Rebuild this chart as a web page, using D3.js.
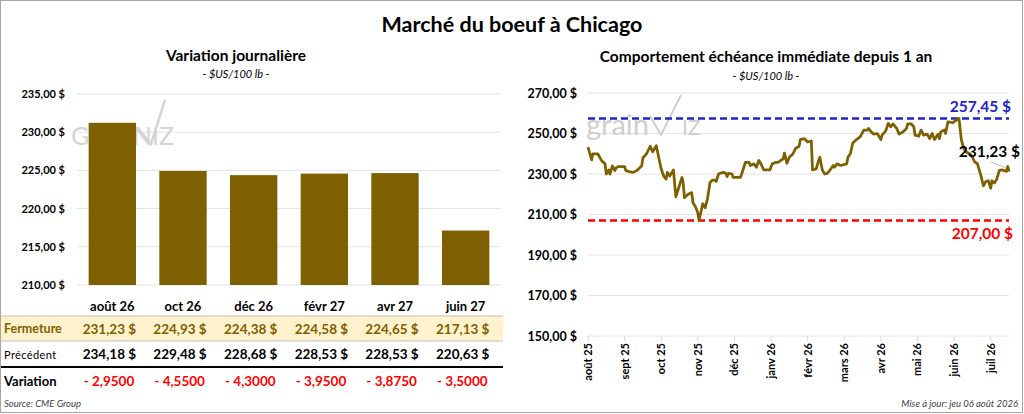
<!DOCTYPE html>
<html>
<head>
<meta charset="utf-8">
<script src="https://cdn.jsdelivr.net/npm/d3@7"></script>
<style>
  body { margin: 0; background: #fff; }
  svg { font-family: Lato, "Open Sans", sans-serif; }
</style>
</head>
<body>
<svg id="chart" width="1024" height="414"></svg>
<script>
// Données du graphique
const contrats   = ["août 26", "oct 26", "déc 26", "févr 27", "avr 27", "juin 27"];
const fermeture  = [231.23, 224.93, 224.38, 224.58, 224.65, 217.13];
const precedent  = [234.18, 229.48, 228.68, 228.53, 228.53, 220.63];
const variation  = [-2.95, -4.55, -4.30, -3.95, -3.875, -3.50];
const ticksGauche = [210, 215, 220, 225, 230, 235];

const moisLabels = ["août 25", "sept 25", "oct 25", "nov 25", "déc 25", "janv 26",
                    "févr 26", "mars 26", "avr 26", "mai 26", "juin 26", "juil 26"];
const ticksDroite = [150, 170, 190, 210, 230, 250, 270];

// échéance immédiate, lecture approximative du graphique
const datesHisto = [
  "2025-08-01","2025-08-04","2025-08-05","2025-08-09","2025-08-12","2025-08-15","2025-08-16","2025-08-18",
  "2025-08-19","2025-08-21","2025-08-23","2025-08-24","2025-08-26","2025-08-31","2025-09-02","2025-09-06",
  "2025-09-08","2025-09-11","2025-09-15","2025-09-16","2025-09-19","2025-09-22","2025-09-24","2025-09-26",
  "2025-09-27","2025-09-29","2025-10-01","2025-10-03","2025-10-05","2025-10-06","2025-10-08","2025-10-10",
  "2025-10-11","2025-10-13","2025-10-15","2025-10-18","2025-10-19","2025-10-20","2025-10-23","2025-10-26",
  "2025-10-27","2025-10-29","2025-10-31","2025-11-02","2025-11-04","2025-11-05","2025-11-07","2025-11-09",
  "2025-11-11","2025-11-13","2025-11-15","2025-11-16","2025-11-18","2025-11-19","2025-11-22","2025-11-24",
  "2025-11-25","2025-11-26","2025-11-29","2025-11-30","2025-12-06","2025-12-08","2025-12-10","2025-12-13",
  "2025-12-14","2025-12-17","2025-12-19","2025-12-21","2025-12-23","2025-12-25","2025-12-30","2026-01-02",
  "2026-01-05","2026-01-07","2026-01-09","2026-01-11","2026-01-12","2026-01-14","2026-01-16","2026-01-19",
  "2026-01-21","2026-01-24","2026-01-25","2026-01-28","2026-01-31","2026-02-04","2026-02-05","2026-02-08",
  "2026-02-10","2026-02-11","2026-02-13","2026-02-15","2026-02-17","2026-02-19","2026-02-22","2026-02-23",
  "2026-02-25","2026-02-28","2026-03-03","2026-03-04","2026-03-06","2026-03-08","2026-03-11","2026-03-14",
  "2026-03-17","2026-03-20","2026-03-21","2026-03-23","2026-03-25","2026-03-28","2026-03-31","2026-04-02",
  "2026-04-05","2026-04-07","2026-04-09","2026-04-11","2026-04-14","2026-04-16","2026-04-19","2026-04-22",
  "2026-04-23","2026-04-26","2026-04-28","2026-04-29","2026-05-02","2026-05-04","2026-05-06","2026-05-09",
  "2026-05-11","2026-05-13","2026-05-15","2026-05-18","2026-05-19","2026-05-20","2026-05-23","2026-05-24",
  "2026-05-26","2026-05-30","2026-06-02","2026-06-05","2026-06-07","2026-06-09","2026-06-11","2026-06-14",
  "2026-06-16","2026-06-18","2026-06-20","2026-06-23","2026-06-25","2026-06-27","2026-06-29","2026-07-01",
  "2026-07-02","2026-07-04","2026-07-06","2026-07-08","2026-07-10","2026-07-12","2026-07-14","2026-07-15",
  "2026-07-16"
];
const prixHisto = [
  243.3, 237.0, 240.0, 240.0, 236.7, 235.0, 230.0, 232.0,
  230.0, 234.0, 231.7, 233.0, 233.7, 233.7, 231.7, 231.0,
  230.8, 231.7, 234.0, 238.0, 240.0, 243.7, 241.0, 243.0,
  244.0, 238.0, 232.5, 229.0, 227.5, 230.8, 229.0, 231.0,
  232.0, 218.7, 222.5, 228.3, 225.8, 218.3, 220.0, 220.8,
  215.8, 214.0, 210.8, 207.0, 212.5, 215.3, 213.3, 218.0,
  225.8, 227.0, 227.0, 226.3, 230.0, 230.3, 230.8, 230.3,
  228.7, 230.3, 230.0, 228.3, 228.3, 232.0, 235.8, 235.8,
  234.2, 235.0, 233.3, 236.7, 234.7, 232.0, 232.0, 235.0,
  235.8, 235.8, 236.7, 237.5, 240.3, 235.3, 238.3, 240.0,
  242.5, 243.7, 247.0, 247.5, 245.8, 246.3, 232.0, 232.5,
  236.7, 238.3, 232.0, 230.0, 230.3, 231.7, 234.2, 233.3,
  235.0, 234.2, 235.0, 238.3, 240.0, 245.3, 247.0, 248.3,
  251.7, 251.7, 252.5, 250.8, 249.7, 250.0, 247.0, 249.2,
  251.3, 255.0, 253.3, 254.7, 252.5, 249.7, 250.8, 252.5,
  254.7, 254.7, 253.3, 249.2, 248.7, 251.7, 249.2, 249.7,
  247.5, 250.0, 247.0, 249.7, 247.5, 250.8, 251.7, 250.0,
  255.8, 255.3, 256.3, 257.45, 246.7, 242.5, 240.8, 240.0,
  238.3, 235.8, 235.3, 229.2, 224.2, 226.3, 226.7, 223.0,
  226.7, 225.5, 227.5, 231.7, 232.0, 231.7, 231.3, 233.7,
  231.23
];
const prixHaut = 257.45;
const prixBas = 207.00;
const prixDernier = 231.23;

const or = "#7f6000";
const svg = d3.select("#chart");

const fmt = v => v.toFixed(2).replace(".", ",");
const fmtVar = v => (v < 0 ? "- " : "") + Math.abs(v).toFixed(4).replace(".", ",");

// position en mois depuis août 2025 (axe à intervalles égaux)
function moisPos(s) {
  const [y, m, d] = s.split("-").map(Number);
  return (y - 2025) * 12 + (m - 8) + (d - 1) / 30;
}

// cadre et titre
svg.append("rect").attr("x", 0.5).attr("y", 0.5).attr("width", 1022).attr("height", 412)
  .attr("fill", "none").attr("stroke", "#a6a6a6");
svg.append("text").attr("x", 512).attr("y", 32).attr("text-anchor", "middle")
  .attr("font-size", 21.5).attr("font-weight", "bold").text("Marché du boeuf à Chicago");

////////////////////////////////////////////////////////////////////////
// Graphique de gauche : variation journalière

svg.append("text").attr("x", 236).attr("y", 61).attr("text-anchor", "middle")
  .attr("font-size", 15.5).attr("font-weight", "bold").text("Variation journalière");
svg.append("text").attr("x", 236).attr("y", 78).attr("text-anchor", "middle")
  .attr("font-size", 11).attr("font-style", "italic").text("- $US/100 lb -");

let xBar = d3.scaleBand().domain(contrats).range([77, 501]).paddingInner(0.33).paddingOuter(0.165);
let yBar = d3.scaleLinear().domain([210, 235]).range([285, 94]);

let gauche = svg.append("g");
gauche.selectAll("line.grid").data(ticksGauche).enter().append("line")
  .attr("x1", 77).attr("x2", 501)
  .attr("y1", d => yBar(d)).attr("y2", d => yBar(d))
  .attr("stroke", "#e3e3e3").attr("stroke-width", 1);
gauche.selectAll("text.ytick").data(ticksGauche).enter().append("text")
  .attr("x", 65).attr("y", d => yBar(d) + 4).attr("text-anchor", "end")
  .attr("font-size", 11).attr("font-weight", "bold").text(d => fmt(d) + " $");

// filigrane
gauche.append("text").attr("x", 71).attr("y", 145).attr("font-size", 25)
  .attr("fill", "#d4d4d4").attr("letter-spacing", 1).text("GRAIN");
gauche.append("path").attr("d", "M137,127 L151,144 L165,100")
  .attr("fill", "none").attr("stroke", "#d4d4d4").attr("stroke-width", 2.5);
gauche.append("text").attr("x", 152).attr("y", 145).attr("font-size", 25)
  .attr("fill", "#d4d4d4").text("IZ");

gauche.selectAll("rect.bar").data(fermeture).enter().append("rect")
  .attr("x", (d, i) => xBar(contrats[i]))
  .attr("width", xBar.bandwidth())
  .attr("y", d => yBar(d))
  .attr("height", d => yBar(210) - yBar(d))
  .attr("fill", or);

gauche.selectAll("text.cat").data(contrats).enter().append("text")
  .attr("x", d => xBar(d) + xBar.bandwidth() / 2).attr("y", 311).attr("text-anchor", "middle")
  .attr("font-size", 13).attr("font-weight", "bold").text(d => d);

// tableau
gauche.append("rect").attr("x", 1).attr("y", 316).attr("width", 502).attr("height", 25)
  .attr("fill", "#fff2cc");
gauche.append("line").attr("x1", 1).attr("x2", 503).attr("y1", 316).attr("y2", 316)
  .attr("stroke", "#bfbfbf");
gauche.append("line").attr("x1", 1).attr("x2", 503).attr("y1", 341).attr("y2", 341)
  .attr("stroke", "#bfbfbf");
gauche.append("line").attr("x1", 1).attr("x2", 503).attr("y1", 367).attr("y2", 367)
  .attr("stroke", "#000").attr("stroke-width", 2);

gauche.append("text").attr("x", 4).attr("y", 333).attr("font-size", 12.5)
  .attr("font-weight", "bold").attr("fill", or).text("Fermeture");
gauche.append("text").attr("x", 4).attr("y", 359).attr("font-size", 11)
  .attr("fill", "#000").attr("letter-spacing", 0.4).text("Précédent");
gauche.append("text").attr("x", 4).attr("y", 386).attr("font-size", 13)
  .attr("font-weight", "bold").attr("fill", "#000").text("Variation");

function ligneValeurs(valeurs, y, couleur) {
  let g = gauche.append("g");
  g.selectAll("text.val").data(valeurs).enter().append("text")
    .attr("x", (d, i) => xBar(contrats[i]) + xBar.bandwidth() - 11)
    .attr("y", y).attr("text-anchor", "end")
    .attr("font-size", 13.5).attr("font-weight", "bold").attr("fill", couleur)
    .text(d => fmt(d));
  g.selectAll("text.dol").data(valeurs).enter().append("text")
    .attr("x", (d, i) => xBar(contrats[i]) + xBar.bandwidth())
    .attr("y", y).attr("text-anchor", "end")
    .attr("font-size", 13.5).attr("font-weight", "bold").attr("fill", couleur)
    .text("$");
}
ligneValeurs(fermeture, 334, or);
ligneValeurs(precedent, 359, "#000");

gauche.selectAll("text.var").data(variation).enter().append("text")
  .attr("x", (d, i) => xBar(contrats[i]) - 5).attr("y", 386)
  .attr("font-size", 13.5).attr("font-weight", "bold").attr("fill", "#ff0000")
  .text(d => fmtVar(d));

svg.append("text").attr("x", 4).attr("y", 407).attr("font-size", 9.5)
  .attr("font-style", "italic").attr("fill", "#404040").text("Source: CME Group");

////////////////////////////////////////////////////////////////////////
// Graphique de droite : échéance immédiate depuis 1 an

svg.append("text").attr("x", 766).attr("y", 62).attr("text-anchor", "middle")
  .attr("font-size", 15.5).attr("font-weight", "bold")
  .text("Comportement  échéance immédiate depuis 1 an");
svg.append("text").attr("x", 766).attr("y", 80).attr("text-anchor", "middle")
  .attr("font-size", 11).attr("font-style", "italic").text("- $US/100 lb -");

let xLigne = d3.scaleLinear().domain([0, 11.5]).range([588, 1009]);
let yLigne = d3.scaleLinear().domain([150, 270]).range([336, 93]);

let droite = svg.append("g");
droite.selectAll("line.grid").data(ticksDroite).enter().append("line")
  .attr("x1", 588).attr("x2", 1009)
  .attr("y1", d => yLigne(d)).attr("y2", d => yLigne(d))
  .attr("stroke", "#e3e3e3").attr("stroke-width", 1);
droite.selectAll("text.ytick").data(ticksDroite).enter().append("text")
  .attr("x", 577).attr("y", d => yLigne(d) + 4.5).attr("text-anchor", "end")
  .attr("font-size", 12.5).attr("font-weight", "bold").text(d => fmt(d) + " $");

droite.selectAll("line.xtick").data(moisLabels).enter().append("line")
  .attr("x1", (d, i) => xLigne(i)).attr("x2", (d, i) => xLigne(i))
  .attr("y1", 336).attr("y2", 341).attr("stroke", "#d9d9d9");
droite.selectAll("text.mois").data(moisLabels).enter().append("text")
  .attr("transform", (d, i) => "translate(" + (xLigne(i) + 4) + ",343) rotate(-90)")
  .attr("text-anchor", "end").attr("font-size", 11).attr("font-weight", "bold")
  .text(d => d);

// filigrane
droite.append("text").attr("x", 586).attr("y", 135).attr("font-size", 29)
  .attr("fill", "#cfcfcf").text("grain");
droite.append("path").attr("d", "M650,116 L661,135 L681,95")
  .attr("fill", "none").attr("stroke", "#cfcfcf").attr("stroke-width", 2);
droite.append("text").attr("x", 682).attr("y", 135).attr("font-size", 21)
  .attr("fill", "#cfcfcf").text("IZ");

// lignes haut / bas
droite.append("line").attr("x1", 588).attr("x2", 1009)
  .attr("y1", yLigne(prixHaut)).attr("y2", yLigne(prixHaut))
  .attr("stroke", "#2323c8").attr("stroke-width", 2.5).attr("stroke-dasharray", "7,4");
droite.append("line").attr("x1", 588).attr("x2", 1009)
  .attr("y1", yLigne(prixBas)).attr("y2", yLigne(prixBas))
  .attr("stroke", "#ff0000").attr("stroke-width", 2.5).attr("stroke-dasharray", "7,4");

let ligne = d3.line()
  .x((d, i) => xLigne(moisPos(datesHisto[i])))
  .y(d => yLigne(d));
droite.append("path").datum(prixHisto).attr("d", ligne)
  .attr("fill", "none").attr("stroke", or).attr("stroke-width", 2.75)
  .attr("stroke-linejoin", "round");

droite.append("text").attr("x", 1011).attr("y", 112).attr("text-anchor", "end")
  .attr("font-size", 15.5).attr("font-weight", "bold").attr("fill", "#2323c8")
  .text(fmt(prixHaut) + " $");
droite.append("text").attr("x", 1013).attr("y", 239).attr("text-anchor", "end")
  .attr("font-size", 15.5).attr("font-weight", "bold").attr("fill", "#ff0000")
  .text(fmt(prixBas) + " $");
droite.append("line").attr("x1", 991).attr("y1", 162).attr("x2", 1006).attr("y2", 168)
  .attr("stroke", "#bfbfbf").attr("stroke-width", 1);
droite.append("text").attr("x", 1020).attr("y", 157).attr("text-anchor", "end")
  .attr("font-size", 15.5).attr("font-weight", "bold").attr("fill", "#000")
  .text(fmt(prixDernier) + " $");

svg.append("text").attr("x", 1018).attr("y", 407).attr("text-anchor", "end")
  .attr("font-size", 9.5).attr("font-style", "italic").attr("fill", "#404040")
  .text("Mise à jour: jeu 06 août 2026");
</script>
</body>
</html>
